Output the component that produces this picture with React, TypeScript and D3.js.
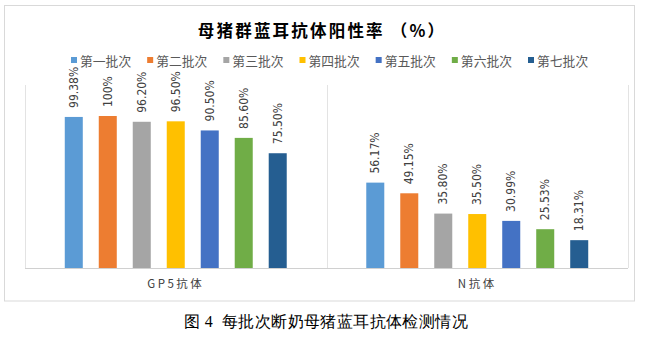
import React from "react";
import * as d3 from "d3";

const categories = ["GP5抗体", "N抗体"];
const series = ["第一批次", "第二批次", "第三批次", "第四批次", "第五批次", "第六批次", "第七批次"];
const gp5Values = [99.38, 100, 96.2, 96.5, 90.5, 85.6, 75.5];
const nValues = [56.17, 49.15, 35.8, 35.5, 30.99, 25.53, 18.31];
const gp5Labels = ["99.38%", "100%", "96.20%", "96.50%", "90.50%", "85.60%", "75.50%"];
const nLabels = ["56.17%", "49.15%", "35.80%", "35.50%", "30.99%", "25.53%", "18.31%"];
const colors = ["#5B9BD5", "#ED7D31", "#A5A5A5", "#FFC000", "#4472C4", "#70AD47", "#255E91"];

const W = 650;
const H = 338;

export default function App() {
  const values = [gp5Values, nValues];
  const labels = [gp5Labels, nLabels];
  const x0 = d3.scaleBand<string>().domain(categories).range([25, 628]).padding(0);
  const x1 = d3
    .scaleBand<string>()
    .domain(series)
    .range([0, x0.bandwidth()])
    .paddingInner(0.47)
    .paddingOuter(1.17);
  const y = d3.scaleLinear().domain([0, 100]).range([268, 116]);
  const color = d3.scaleOrdinal<string, string>().domain(series).range(colors);
  const legendX = d3.scalePoint<string>().domain(series).range([71, 528]);

  const gridXs = [x0.range()[0], (x0(categories[1]) as number), x0.range()[1]];

  return (
    <div style={{ position: "absolute", left: 0, top: 0, width: W, height: H, background: "#fff" }}>
      <svg width={W} height={H} style={{ display: "block" }}>
        <rect x={0} y={0} width={W} height={H} fill="#fff" />
        <rect x={4.5} y={5.5} width={630} height={295.5} fill="#fff" stroke="#d9d9d9" strokeWidth={1} />
        <text
          x={322}
          y={30}
          textAnchor="middle"
          dominantBaseline="central"
          fontFamily="'Noto Sans CJK SC', sans-serif"
          fontWeight={700}
          fontSize={16.5}
          letterSpacing={2.2}
          fill="#000"
        >
          母猪群蓝耳抗体阳性率 （%）
        </text>
        {series.map((s) => (
          <g key={s} transform={`translate(${legendX(s)},60)`}>
            <rect x={0} y={-3} width={6} height={6} fill={color(s)} />
            <text
              x={9}
              y={0}
              dominantBaseline="central"
              fontFamily="'Noto Sans CJK SC', sans-serif"
              fontSize={12.8}
              fill="#595959"
            >
              {s}
            </text>
          </g>
        ))}
        {gridXs.map((gx, i) => (
          <line key={i} x1={Math.round(gx) + 0.5} x2={Math.round(gx) + 0.5} y1={85} y2={268} stroke="#e3e3e3" strokeWidth={1} />
        ))}
        <line x1={25} x2={628} y1={268.5} y2={268.5} stroke="#d0d0d0" strokeWidth={1} />
        {categories.map((c, ci) => (
          <g key={c} transform={`translate(${x0(c)},0)`}>
            {series.map((s, si) => {
              const v = values[ci][si];
              const bx = x1(s) as number;
              const bw = x1.bandwidth();
              return (
                <g key={s}>
                  <rect x={bx} y={y(v)} width={bw} height={y(0) - y(v)} fill={color(s)} />
                  <text
                    transform={`translate(${bx + bw / 2},${y(v) - 9}) rotate(-90)`}
                    dominantBaseline="central"
                    fontFamily="'Liberation Sans Narrow', 'DejaVu Sans Condensed', sans-serif"
                    fontSize={12}
                    fill="#404040"
                  >
                    {labels[ci][si]}
                  </text>
                </g>
              );
            })}
            <text
              x={x0.bandwidth() / 2}
              y={283}
              textAnchor="middle"
              dominantBaseline="central"
              fontFamily="'Noto Sans CJK SC', sans-serif"
              fontSize={11.5}
              letterSpacing={2.5}
              fill="#404040"
            >
              {c}
            </text>
          </g>
        ))}
        <text
          x={326}
          y={321}
          textAnchor="middle"
          dominantBaseline="central"
          fontFamily="serif"
          fontSize={16}
          letterSpacing={0.4}
          fill="#000"
          style={{ whiteSpace: "pre" }}
        >
          {"图 4  每批次断奶母猪蓝耳抗体检测情况"}
        </text>
      </svg>
    </div>
  );
}
